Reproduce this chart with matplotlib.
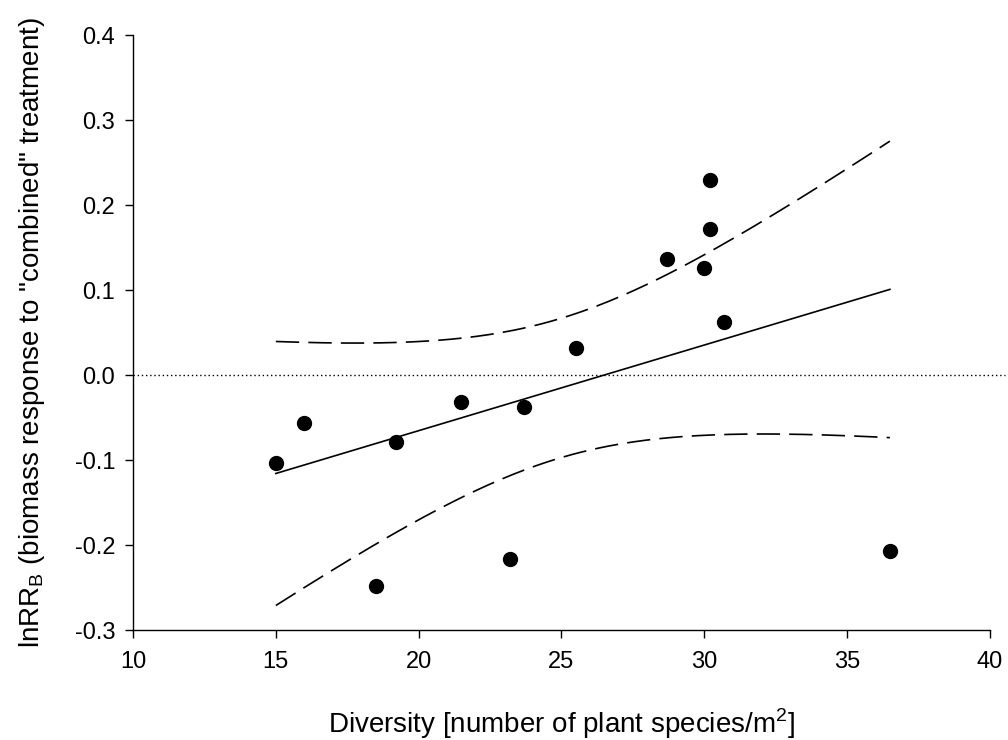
import numpy as np
import matplotlib
matplotlib.use("Agg")
import matplotlib.pyplot as plt

# Diversity (plant species per m2) and lnRR_B
diversity = [15.0, 16.0, 18.5, 19.2, 21.5, 23.2, 23.7, 25.5, 28.7, 30.0, 30.2, 30.2, 30.7, 36.5]
ln_rr = [-0.103, -0.057, -0.248, -0.079, -0.032, -0.216, -0.038, 0.032,
         0.137, 0.126, 0.229, 0.172, 0.062, -0.207]

X_TICKS = [10, 15, 20, 25, 30, 35, 40]
Y_TICKS = [-0.3, -0.2, -0.1, 0.0, 0.1, 0.2, 0.3, 0.4]
T_CRIT = 2.179  # t(0.975, df=12)

plt.rcParams['font.family'] = ['Liberation Sans', 'DejaVu Sans']
plt.rcParams['axes.unicode_minus'] = False

x = np.array(diversity)
y = np.array(ln_rr)

# linear regression with 95% confidence band
slope, intercept = np.polyfit(x, y, 1)
n = len(x)
resid = y - (slope * x + intercept)
s = np.sqrt(np.sum(resid ** 2) / (n - 2))
sxx = np.sum((x - x.mean()) ** 2)
xf = np.linspace(x.min(), x.max(), 200)
yf = slope * xf + intercept
half = T_CRIT * s * np.sqrt(1 / n + (xf - x.mean()) ** 2 / sxx)

fig = plt.figure(figsize=(10.08, 7.4), dpi=100)
ax = fig.add_axes([0.132, 0.1486, 0.850, 0.804])

ax.axhline(0, xmin=0, xmax=1.018, color='black', linewidth=1, linestyle=(0, (1, 2)), clip_on=False)
ax.plot(xf, yf, color='black', linewidth=1.2)
ax.plot(xf, yf + half, color='black', linewidth=1.2, dashes=(14, 5.5))
ax.plot(xf, yf - half, color='black', linewidth=1.2, dashes=(14, 5.5))
ax.plot(x, y, 'o', color='black', markersize=10, clip_on=False)

ax.set_xlim(10, 40)
ax.set_ylim(-0.3, 0.4)
ax.set_xticks(X_TICKS)
ax.set_yticks(Y_TICKS)
ax.set_yticklabels([f"{v:.1f}" for v in Y_TICKS])
ax.tick_params(labelsize=17, length=6, width=1, direction='out')
ax.tick_params(axis='y', pad=7)
ax.tick_params(axis='x', pad=9)

for side in ['top', 'right']:
    ax.spines[side].set_visible(False)
for side in ['left', 'bottom']:
    ax.spines[side].set_linewidth(1)

ax.set_xlabel(r'Diversity [number of plant species/m$^\mathregular{2}$]', fontsize=20)
ax.xaxis.set_label_coords(0.5, -0.128)
ax.set_ylabel(r'lnRR$_\mathregular{B}$ (biomass response to "combined" treatment)', fontsize=20, labelpad=20)

plt.savefig("out.png", dpi=100)
